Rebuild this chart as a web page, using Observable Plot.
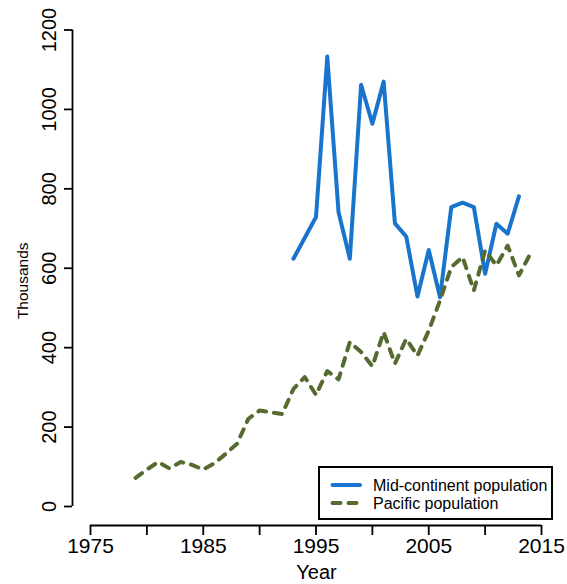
<!DOCTYPE html>
<html><head><meta charset="utf-8">
<script src="https://cdn.jsdelivr.net/npm/d3@7"></script>
<script src="https://cdn.jsdelivr.net/npm/@observablehq/plot@0.6"></script>
<style>
body{margin:0;background:#fff;}
#wrap{position:relative;width:567px;height:584px;font-family:"Liberation Sans",Arial,sans-serif;color:#000;}
#legend{position:absolute;left:318px;top:466px;width:235px;height:54px;box-sizing:border-box;border:2px solid #000;background:#fff;}
#legend svg{position:absolute;left:0;top:0;}
</style>
</head><body>
<div id="wrap"></div>
<script>
// Mid-continent population (thousands); 1994 missing in the source
const midYears  = [1993,1995,1996,1997,1998,1999,2000,2001,2002,2003,2004,2005,2006,2007,2008,2009,2010,2011,2012,2013];
const midValues = [624, 729, 1133, 741, 624, 1062, 964, 1070, 713, 680, 529, 646, 527, 754, 765, 754, 586, 712, 687, 781];

// Pacific population (thousands)
const pacYears  = [1979,1980,1981,1982,1983,1984,1985,1986,1987,1988,1989,1990,1991,1992,1993,1994,1995,1996,1997,1998,1999,2000,2001,2002,2003,2004,2005,2006,2007,2008,2009,2010,2011,2012,2013,2014];
const pacValues = [72, 93, 112, 96, 112, 105, 93, 109, 133, 158, 221, 242, 237, 233, 296, 326, 281, 341, 320, 414, 389, 353, 439, 360, 422, 380, 443, 519, 603, 628, 544, 645, 607, 657, 582, 636];

const xTicks = [1975,1980,1985,1990,1995,2000,2005,2010,2015];
const xLabels = [1975,1985,1995,2005,2015];
const yTicks = [0,200,400,600,800,1000,1200];
const seriesNames = ["Mid-continent population","Pacific population"];
const seriesColors = ["#1874CD","#556B2F"];

const mid = midYears.map((y,i)=>({year:y, value:midValues[i]}));
const pac = pacYears.map((y,i)=>({year:y, value:pacValues[i]}));

const font = '"Liberation Sans", Arial, sans-serif';

const chart = Plot.plot({
  width: 567,
  height: 584,
  marginLeft: 72,
  marginTop: 29.5,
  marginBottom: 59,
  marginRight: 7,
  style: {fontFamily: font, color: "#000", background: "#fff", overflow: "visible"},
  x: {domain: [1975, 2015], range: [90, 541]},
  y: {domain: [0, 1200], range: [506, 29.5]},
  marks: [
    Plot.axisX({ticks: xTicks, tickSize: 10, tickPadding: 3, strokeWidth: 1.8, fontSize: 21,
      tickFormat: d => xLabels.includes(d) ? String(d) : "", label: null}),
    Plot.ruleY([0], {x1: 1975, x2: 2015, dy: 19, strokeWidth: 1.8}),
    Plot.axisY({ticks: yTicks, tickSize: 8, strokeWidth: 1.8, tickFormat: () => "", label: null}),
    Plot.ruleX([1975], {y1: 0, y2: 1200, dx: -18, strokeWidth: 1.8}),
    Plot.text(yTicks, {y: d => d, text: d => String(d), frameAnchor: "left", rotate: -90,
      textAnchor: "middle", lineAnchor: "bottom", dx: -17, fontSize: 20}),
    Plot.text(["Thousands"], {frameAnchor: "left", rotate: -90, textAnchor: "middle", lineAnchor: "bottom", dx: -45, dy: 3, fontSize: 15.5}),
    Plot.text(["Year"], {frameAnchor: "bottom", lineAnchor: "bottom", dy: 53, fontSize: 20}),
    Plot.line(mid, {x: "year", y: "value", stroke: seriesColors[0], strokeWidth: 4,
      strokeLinejoin: "round", strokeLinecap: "round"}),
    Plot.line(pac, {x: "year", y: "value", stroke: seriesColors[1], strokeWidth: 4,
      strokeDasharray: "8,8", strokeLinejoin: "round", strokeLinecap: "round"})
  ]
});

const wrap = document.getElementById("wrap");
wrap.appendChild(chart);

// legend
const leg = document.createElement("div");
leg.id = "legend";
const rows = seriesNames.map((n,i) => {
  const y = 17 + i*18;
  const dash = i === 1 ? ' stroke-dasharray="8,8"' : '';
  return `<line x1="12.5" x2="40" y1="${y}" y2="${y}" stroke="${seriesColors[i]}" stroke-width="4" stroke-linecap="round"${dash}/>` +
         `<text x="53" y="${y}" dy="0.35em" font-size="16" font-family='${font}' fill="#000">${n}</text>`;
}).join("");
leg.innerHTML = `<svg width="231" height="50">${rows}</svg>`;
wrap.appendChild(leg);
</script>
</body></html>
